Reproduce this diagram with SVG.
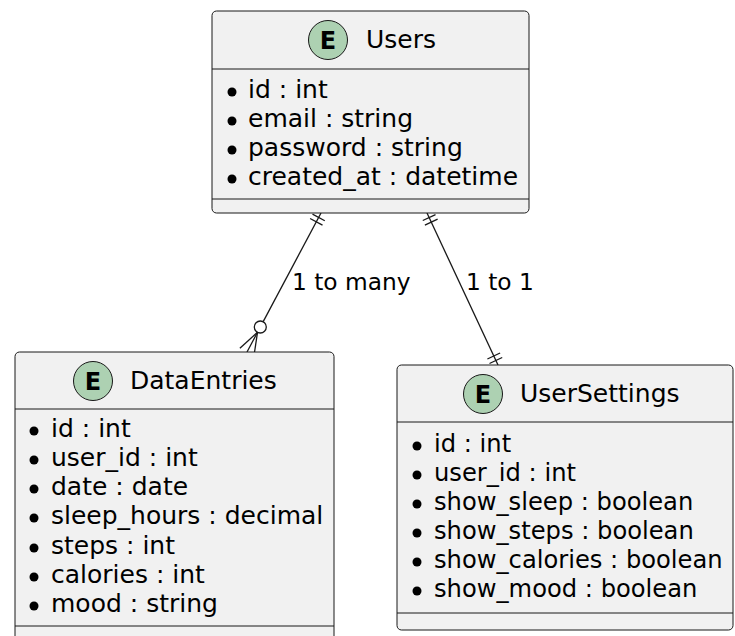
<svg xmlns="http://www.w3.org/2000/svg" width="735" height="636" viewBox="0 0 735 636">
<style>
.box{fill:#F1F1F1;stroke:#181818;stroke-width:1}
.sep{stroke:#181818;stroke-width:1}
.circ{fill:#ADD1B2;stroke:#181818;stroke-width:1}
.e{font-family:"DejaVu Sans",sans-serif;font-size:24px;font-weight:bold;fill:#000;text-anchor:middle}
.t{font-family:"DejaVu Sans",sans-serif;font-size:25px;fill:#000}
.ts{font-size:24.2px}
.lbl{font-family:"DejaVu Sans",sans-serif;font-size:23.3px;fill:#000}
.dot{fill:#000}
.ln{stroke:#181818;stroke-width:1.3;fill:none}
</style>
<rect width="735" height="636" fill="#FFFFFF"/>
<g id="connectors">
  <line class="ln" x1="321" y1="213" x2="263.2" y2="321.6"/>
  <line class="ln" x1="312.5" y1="214.1" x2="324.8" y2="220.7"/>
  <line class="ln" x1="310.1" y1="218.5" x2="322.5" y2="225.1"/>
  <circle class="ln" cx="260.3" cy="327" r="6" fill="#FFFFFF"/>
  <line class="ln" x1="257.5" y1="332.3" x2="247" y2="352"/>
  <line class="ln" x1="257.5" y1="332.3" x2="239.9" y2="348.2"/>
  <line class="ln" x1="257.5" y1="332.3" x2="254.1" y2="355"/>
  <text class="lbl" x="292" y="290">1 to many</text>
  <line class="ln" x1="427" y1="213" x2="498" y2="365"/>
  <line class="ln" x1="422.8" y1="220.5" x2="435.5" y2="214.6"/>
  <line class="ln" x1="424.9" y1="225.1" x2="437.6" y2="219.1"/>
  <line class="ln" x1="489.5" y1="363.5" x2="502.2" y2="357.5"/>
  <line class="ln" x1="487.4" y1="359" x2="500.1" y2="353"/>
  <text class="lbl" x="466" y="290">1 to 1</text>
</g>
<g id="Users">
  <rect class="box" x="212" y="11" width="317" height="202" rx="4.5"/>
  <line class="sep" x1="212" y1="69" x2="529" y2="69"/>
  <line class="sep" x1="212" y1="199" x2="529" y2="199"/>
  <circle class="circ" cx="328" cy="40" r="19.5"/>
  <text class="e" x="328" y="48.5">E</text>
  <text class="t" x="366" y="48">Users</text>
  <circle class="dot" cx="232" cy="92" r="4.5"/><text class="t" x="248" y="98">id : int</text>
  <circle class="dot" cx="232" cy="121" r="4.5"/><text class="t" x="248" y="127">email : string</text>
  <circle class="dot" cx="232" cy="150" r="4.5"/><text class="t" x="248" y="156">password : string</text>
  <circle class="dot" cx="232" cy="179" r="4.5"/><text class="t" x="248" y="185">created_at : datetime</text>
</g>
<g id="DataEntries">
  <rect class="box" x="15" y="352" width="319" height="300" rx="4.5"/>
  <line class="sep" x1="15" y1="409" x2="334" y2="409"/>
  <line class="sep" x1="15" y1="626" x2="334" y2="626"/>
  <circle class="circ" cx="93" cy="381" r="19.5"/>
  <text class="e" x="93" y="389.5">E</text>
  <text class="t" x="130" y="389">DataEntries</text>
  <circle class="dot" cx="34" cy="431" r="4.5"/><text class="t" x="51" y="437">id : int</text>
  <circle class="dot" cx="34" cy="460" r="4.5"/><text class="t" x="51" y="466">user_id : int</text>
  <circle class="dot" cx="34" cy="489" r="4.5"/><text class="t" x="51" y="495">date : date</text>
  <circle class="dot" cx="34" cy="518" r="4.5"/><text class="t" x="51" y="524">sleep_hours : decimal</text>
  <circle class="dot" cx="34" cy="548" r="4.5"/><text class="t" x="51" y="554">steps : int</text>
  <circle class="dot" cx="34" cy="577" r="4.5"/><text class="t" x="51" y="583">calories : int</text>
  <circle class="dot" cx="34" cy="606" r="4.5"/><text class="t" x="51" y="612">mood : string</text>
</g>
<g id="UserSettings">
  <rect class="box" x="397" y="365" width="336" height="265" rx="4.5"/>
  <line class="sep" x1="397" y1="422" x2="733" y2="422"/>
  <line class="sep" x1="397" y1="613" x2="733" y2="613"/>
  <circle class="circ" cx="483" cy="394" r="19.5"/>
  <text class="e" x="483" y="402.5">E</text>
  <text class="t" x="520" y="402">UserSettings</text>
  <circle class="dot" cx="417" cy="446" r="4.5"/><text class="t ts" x="434" y="452">id : int</text>
  <circle class="dot" cx="417" cy="475" r="4.5"/><text class="t ts" x="434" y="481">user_id : int</text>
  <circle class="dot" cx="417" cy="504" r="4.5"/><text class="t ts" x="434" y="510">show_sleep : boolean</text>
  <circle class="dot" cx="417" cy="533" r="4.5"/><text class="t ts" x="434" y="539">show_steps : boolean</text>
  <circle class="dot" cx="417" cy="562" r="4.5"/><text class="t ts" x="434" y="568">show_calories : boolean</text>
  <circle class="dot" cx="417" cy="591" r="4.5"/><text class="t ts" x="434" y="597">show_mood : boolean</text>
</g>
</svg>
